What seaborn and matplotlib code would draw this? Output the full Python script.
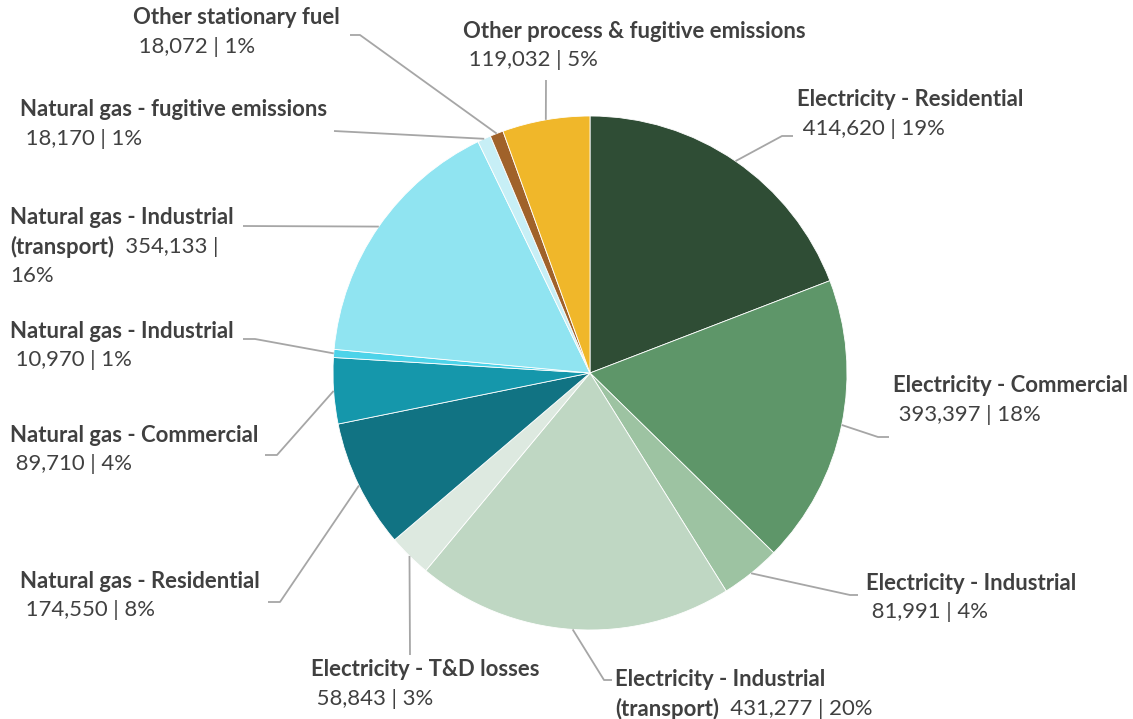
import matplotlib
matplotlib.use("Agg")
import matplotlib.pyplot as plt
import numpy as np
import seaborn as sns

# Emission sources (clockwise from 12 o'clock) and their totals
categories = [
    "Electricity - Residential",
    "Electricity - Commercial",
    "Electricity - Industrial",
    "Electricity - Industrial (transport)",
    "Electricity - T&D losses",
    "Natural gas - Residential",
    "Natural gas - Commercial",
    "Natural gas - Industrial",
    "Natural gas - Industrial (transport)",
    "Natural gas - fugitive emissions",
    "Other stationary fuel",
    "Other process & fugitive emissions",
]
emissions = [414620, 393397, 81991, 431277, 58843, 174550,
             89710, 10970, 354133, 18170, 18072, 119032]
slice_colors = ["#2F4D35", "#5E9669", "#9DC3A2", "#BFD7C3", "#DDE9E0",
                "#117383", "#1597AB", "#4DD3E9", "#90E4F1", "#C7EFF6",
                "#A0622A", "#F0B72A"]

W, H = 1133, 719
sns.set_theme(style="white")
plt.rcParams["font.family"] = ["Lato", "DejaVu Sans"]

TEXT = "#404040"
LEADER = "#A6A6A6"
FS = 15.9
LINE = 29

fig = plt.figure(figsize=(W / 100, H / 100), dpi=100)
ax = fig.add_axes([0, 0, 1, 1])

cx, cy, R = 590, H - 373, 257
wedges, _ = ax.pie(emissions, colors=slice_colors, startangle=90,
                   counterclock=False, center=(cx, cy), radius=R,
                   wedgeprops=dict(linewidth=0.6, edgecolor="white"))
ax.set_xlim(0, W)
ax.set_ylim(0, H)
ax.set_aspect("equal")
ax.axis("off")

total = sum(emissions)


def Y(py):
    return H - py


# label box position (left x, centre of first line from top), layout style,
# and leader path from the slice edge (points measured from top-left)
layout = [
    ((797, 100), "below", [(782, 136), (793, 136)]),
    ((893, 386), "below", [(878, 437), (889, 437)]),
    ((866, 583), "below", [(850, 595), (858, 595)]),
    ((615, 680), "inline", [(604, 680), (612, 680)]),
    ((311, 670), "below", [(410, 655)]),
    ((20, 581), "below", [(280, 602), (268, 602)]),
    ((10, 435), "below", [(277, 455), (265, 455)]),
    ((10, 331), "below", [(255, 339), (243, 339)]),
    ((10, 218), "inline_wrap", [(243, 226)]),
    ((20, 110), "below", [(334, 131)]),
    ((133, 18), "below", [(360, 35), (350, 35)]),
    ((463, 31), "below", [(546, 80)]),
]

fig.canvas.draw()
renderer = fig.canvas.get_renderer()

for w, name, val, (pos, style, path) in zip(wedges, categories, emissions, layout):
    # leader line from the slice's mid-angle on the rim
    mid = np.deg2rad((w.theta1 + w.theta2) / 2)
    ax_pts = [(cx + R * np.cos(mid), cy + R * np.sin(mid))]
    ax_pts += [(px, Y(py)) for px, py in path]
    xs, ys = zip(*ax_pts)
    ax.plot(xs, ys, color=LEADER, lw=1.3, solid_capstyle="butt", zorder=1)

    pct = round(val / total * 100)
    value_txt = f"{val:,} | {pct}%"
    x0, y0 = pos
    if style == "below":
        ax.text(x0, Y(y0), name, fontsize=FS, fontweight="bold", color=TEXT,
                ha="left", va="center")
        ax.text(x0, Y(y0 + LINE), " " + value_txt, fontsize=FS, color=TEXT,
                ha="left", va="center")
    else:
        head, tail = name.split(" (")
        ax.text(x0, Y(y0), head, fontsize=FS, fontweight="bold", color=TEXT,
                ha="left", va="center")
        t2 = ax.text(x0, Y(y0 + LINE), "(" + tail, fontsize=FS, fontweight="bold",
                     color=TEXT, ha="left", va="center")
        bb = t2.get_window_extent(renderer=renderer)
        x_after = ax.transData.inverted().transform((bb.x1, 0))[0]
        if style == "inline":
            ax.text(x_after, Y(y0 + LINE), "  " + value_txt, fontsize=FS,
                    color=TEXT, ha="left", va="center")
        else:
            first, second = value_txt.split("| ")
            ax.text(x_after, Y(y0 + LINE), "  " + first + "|", fontsize=FS,
                    color=TEXT, ha="left", va="center")
            ax.text(x0, Y(y0 + 2 * LINE), second, fontsize=FS, color=TEXT,
                    ha="left", va="center")

fig.savefig("out.png", dpi=100, facecolor="white")
